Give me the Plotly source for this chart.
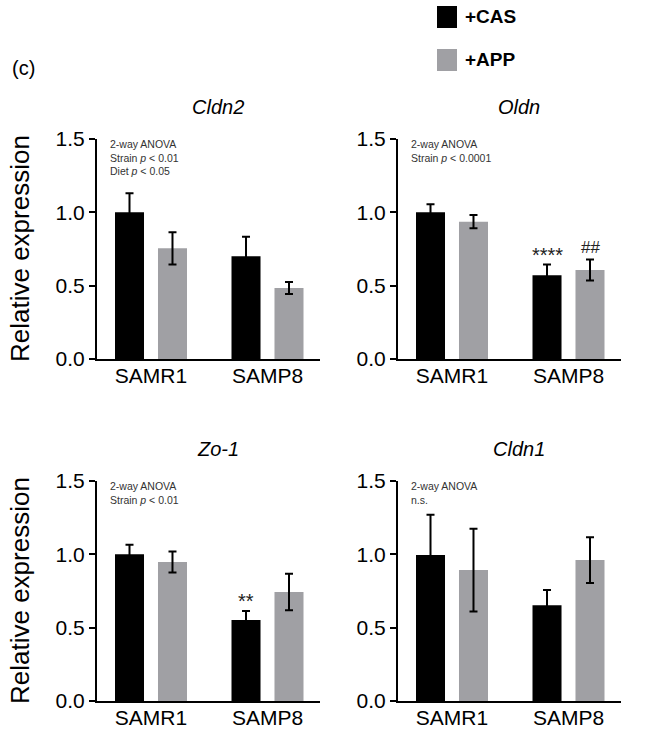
import plotly.graph_objects as go

strains = ["SAMR1", "SAMP8"]
genes = ["Cldn2", "Oldn", "Zo-1", "Cldn1"]
cas_mean = {"Cldn2": [1.00, 0.70], "Oldn": [1.00, 0.571], "Zo-1": [1.00, 0.552], "Cldn1": [0.995, 0.652]}
cas_err = {"Cldn2": [0.13, 0.133], "Oldn": [0.055, 0.073], "Zo-1": [0.066, 0.062], "Cldn1": [0.275, 0.105]}
app_mean = {"Cldn2": [0.755, 0.484], "Oldn": [0.936, 0.607], "Zo-1": [0.948, 0.743], "Cldn1": [0.893, 0.961]}
app_err = {"Cldn2": [0.11, 0.041], "Oldn": [0.045, 0.071], "Zo-1": [0.072, 0.124], "Cldn1": [0.282, 0.156]}
anova_text = {
    "Cldn2": "2-way ANOVA<br>Strain <i>p</i> < 0.01<br>Diet <i>p</i> < 0.05",
    "Oldn": "2-way ANOVA<br>Strain <i>p</i> < 0.0001",
    "Zo-1": "2-way ANOVA<br>Strain <i>p</i> < 0.01",
    "Cldn1": "2-way ANOVA<br>n.s.",
}
# significance marks: (gene, strain index, series, text)
sig_marks = [("Oldn", 1, "CAS", "****"), ("Oldn", 1, "APP", "##"), ("Zo-1", 1, "CAS", "**")]
y_ticks = [0.0, 0.5, 1.0, 1.5]
series_names = ["+CAS", "+APP"]
colors = ["#000000", "#a0a0a4"]

W, H = 661, 733
FONT = "Arial, Liberation Sans, sans-serif"

# pixel layout
panels = {
    "Cldn2": dict(x0=97, x1=320, ytop=139, ybot=359),
    "Oldn": dict(x0=398, x1=621, ytop=139, ybot=359),
    "Zo-1": dict(x0=97, x1=320, ytop=481, ybot=701),
    "Cldn1": dict(x0=398, x1=621, ytop=481, ybot=701),
}

fig = go.Figure()
layout = dict(
    width=W, height=H, margin=dict(l=0, r=0, t=0, b=0, pad=0), autosize=False,
    paper_bgcolor="white", plot_bgcolor="white",
    barmode="group", bargap=0.262, bargroupgap=0.325,
    showlegend=False, font=dict(family=FONT, color="black"),
)
annotations = []
shapes = []

for i, g in enumerate(genes):
    p = panels[g]
    n = "" if i == 0 else str(i + 1)
    xa, ya = "x" + n, "y" + n
    for s, (mean, err) in enumerate([(cas_mean, cas_err), (app_mean, app_err)]):
        fig.add_trace(go.Bar(
            x=strains, y=mean[g], name=series_names[s], marker=dict(color=colors[s], line=dict(width=0)),
            error_y=dict(type="data", array=err[g], color="black", thickness=2, width=4),
            xaxis=xa, yaxis=ya, offsetgroup=str(s),
        ))
    layout["xaxis" + n] = dict(
        domain=[p["x0"] / W, p["x1"] / W], anchor=ya, type="category", automargin=False,
        range=[-0.4635, 1.4506], showline=True, linecolor="black", linewidth=2,
        ticks="", tickfont=dict(size=21, family=FONT, color="black"), showgrid=False,
        zeroline=False, fixedrange=True, ticklabelstandoff=-3,
    )
    layout["yaxis" + n] = dict(
        domain=[1 - p["ybot"] / H, 1 - p["ytop"] / H], anchor=xa, automargin=False,
        range=[0, 1.5], tickvals=y_ticks, ticktext=[f"{v:.1f}" for v in y_ticks],
        showline=True, linecolor="black", linewidth=2, ticks="outside", ticklen=6,
        tickwidth=2, tickcolor="black", tickfont=dict(size=21, family=FONT, color="black"),
        showgrid=False, zeroline=False, fixedrange=True,
    )
    if i in (0, 2):
        annotations.append(dict(
            text="Relative expression", x=20 / W, y=1 - (p["ytop"] + p["ybot"]) / 2 / H,
            xref="paper", yref="paper", textangle=-90, showarrow=False,
            xanchor="center", yanchor="middle", font=dict(size=26, family=FONT),
        ))
    # title
    annotations.append(dict(
        text=f"<i>{g}</i>", x=(p["x0"] + p["x1"]) / 2 / W + 0.014, y=1 - (p["ytop"] - 32) / H,
        xref="paper", yref="paper", showarrow=False, font=dict(size=20, family=FONT),
        xanchor="center", yanchor="middle",
    ))
    # anova text
    annotations.append(dict(
        text=anova_text[g], x=0.05, y=1.0, xref=xa + " domain", yref=ya + " domain",
        xanchor="left", yanchor="top", align="left", showarrow=False,
        font=dict(size=10.5, family=FONT, color="#333333"), yshift=3,
    ))

for g, si, ser, txt in sig_marks:
    i = genes.index(g)
    n = "" if i == 0 else str(i + 1)
    if ser == "CAS":
        top = cas_mean[g][si] + cas_err[g][si]
        shift = -21.5
    else:
        top = app_mean[g][si] + app_err[g][si]
        shift = 21.5
    annotations.append(dict(
        text=txt, x=strains[si], y=top, xref="x" + n, yref="y" + n, xshift=shift,
        yshift=-3 if "*" in txt else 1,
        xanchor="center", yanchor="bottom", showarrow=False,
        font=dict(size=17 if "#" in txt else 20, family=FONT, color="#222222"),
    ))

# panel label
annotations.append(dict(text="(c)", x=10 / W, y=1 - 68 / H, xref="paper", yref="paper",
                        xanchor="left", yanchor="middle", showarrow=False, font=dict(size=20, family=FONT)))
# legend
for k, (nm, c) in enumerate(zip(series_names, colors)):
    yc = 17 + k * 43
    shapes.append(dict(type="rect", xref="paper", yref="paper", x0=437 / W, x1=457 / W,
                       y0=1 - (yc + 11) / H, y1=1 - (yc - 11) / H, fillcolor=c, line=dict(width=0)))
    annotations.append(dict(text=f"<b>{nm}</b>", x=463 / W, y=1 - yc / H, xref="paper", yref="paper",
                            xanchor="left", yanchor="middle", showarrow=False, font=dict(size=19, family=FONT)))

layout["annotations"] = annotations
layout["shapes"] = shapes
fig.update_layout(**layout)
fig.write_html("out.html")
